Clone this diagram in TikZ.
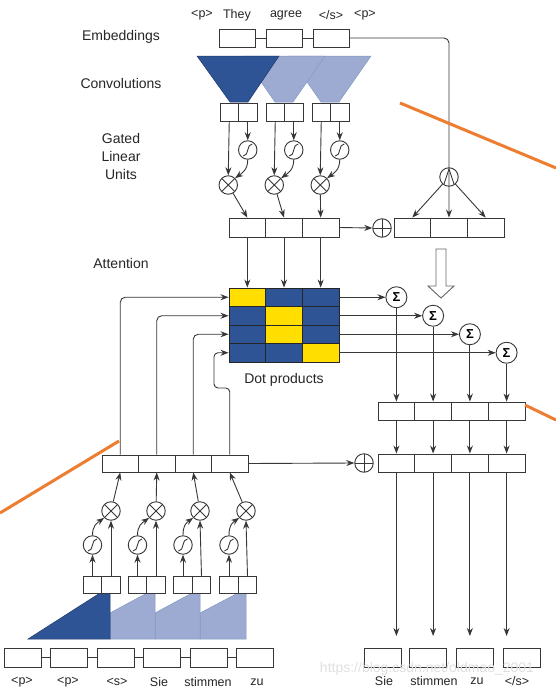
\documentclass[tikz,border=0pt]{standalone}
\usepackage{fontspec}
\setmainfont{Liberation Sans}
\usetikzlibrary{arrows.meta}
\definecolor{dblue}{RGB}{46,84,150}
\definecolor{lblue}{RGB}{157,171,210}
\definecolor{myyellow}{RGB}{255,222,0}
\definecolor{orng}{RGB}{237,125,49}
\definecolor{linec}{RGB}{55,55,55}
\tikzset{
  box/.style={draw=linec, line width=0.9pt, minimum width=36.7pt, minimum height=19pt, inner sep=0pt, fill=white},
  sbox/.style={box, minimum width=18.4pt, minimum height=18pt},
  cell/.style={draw=black!85, line width=0.9pt, minimum width=36.67pt, minimum height=18.5pt, inner sep=0pt},
  conn/.style={draw=linec, line width=0.9pt},
  arr/.style={conn, -{Stealth[length=8pt,width=6pt]}},
  circ/.style={circle, draw=linec, line width=0.9pt, minimum size=18.5pt, inner sep=0pt, fill=white},
  timesnode/.style={circ, path picture={\draw[linec, line width=0.9pt]
     (path picture bounding box.north west) -- (path picture bounding box.south east)
     (path picture bounding box.south west) -- (path picture bounding box.north east);}},
  plusnode/.style={circ, path picture={\draw[linec, line width=0.9pt]
     (path picture bounding box.north) -- (path picture bounding box.south)
     (path picture bounding box.west) -- (path picture bounding box.east);}},
  sigmnode/.style={circ, path picture={\draw[linec, line width=0.9pt]
     ([shift={(-4.5,6)}]path picture bounding box.center) .. controls ([shift={(1.5,6)}]path picture bounding box.center) and ([shift={(-1.5,-6)}]path picture bounding box.center) .. ([shift={(4.5,-6)}]path picture bounding box.center);}},
  lamnode/.style={circ, path picture={\draw[linec, line width=0.9pt]
     ([shift={(-5,7)}]path picture bounding box.center) -- ([shift={(0,-8)}]path picture bounding box.center) -- ([shift={(5,7)}]path picture bounding box.center);}},
  sumnode/.style={circ, minimum size=21pt, font=\fontsize{13}{13}\selectfont\bfseries},
  tok/.style={font=\fontsize{12.5}{14}\selectfont, inner sep=0pt, text=black!85},
  lab/.style={font=\fontsize{14}{18}\selectfont, align=center, inner sep=0pt, text=black!85},
  orangeline/.style={draw=orng, line width=3pt},
  convdark/.style={fill=dblue, draw=dblue!70!black, line width=0.5pt},
  convlight/.style={fill=lblue, draw=dblue!60, line width=0.5pt},
}
\begin{document}
\begin{tikzpicture}[x=1pt,y=-1pt]
\useasboundingbox (0,0) rectangle (556,688);
\fill[white] (0,0) rectangle (556,688);

% ---------------- labels left
\node[lab] (lEmb) at (121,37) {Embeddings};
\node[lab] (lConv) at (121,83) {Convolutions};
\node[lab] (lGLU) at (121,156) {Gated\\Linear\\Units};
\node[lab] (lAtt) at (121,263) {Attention};
\node[lab] (lDot) at (284,380) {Dot products};

% ---------------- decoder top tokens
\node[tok] (tp1) at (202,15) {<p>};
\node[tok] (tThey) at (237,15) {They};
\node[tok] (tagree) at (286,15) {agree};
\node[tok] (tend) at (331,15) {</s>};
\node[tok] (tp2) at (365,15) {<p>};

% ---------------- decoder convolutions
\draw[convlight] (289,56) -- (371,56) -- (339,102) -- (321,102) -- cycle;
\draw[convlight] (243,56) -- (325,56) -- (293,102) -- (275,102) -- cycle;
\draw[convdark] (197,56) -- (279,56) -- (248,102) -- (230,102) -- cycle;

% ---------------- encoder convolutions
\draw[convlight] (200,639) -- (200,613) -- (238,593) -- (246,593) -- (246,639) -- cycle;
\draw[convlight] (155,639) -- (155,613) -- (192,593) -- (200,593) -- (200,639) -- cycle;
\draw[convlight] (110,639) -- (110,613) -- (147,593) -- (155,593) -- (155,639) -- cycle;
\draw[convdark] (28,639) -- (100,593) -- (110,593) -- (110,639) -- cycle;

% ---------------- decoder embeddings
\node[box, minimum width=36pt, minimum height=18pt] (e1) at (237,38) {};
\node[box, minimum width=36pt, minimum height=18pt] (e2) at (284.5,38) {};
\node[box, minimum width=36pt, minimum height=18pt] (e3) at (331,38) {};

% ---------------- decoder conv outputs (pairs)
\foreach \i/\x in {1/229.25,2/275.25,3/321.25}{
  \node[sbox] (dpa\i) at (\x,112) {};
  \node[sbox] (dpb\i) at (\x+18.5,112) {};
  \node[sigmnode] (ds\i) at (\x+18.5,150) {};
  \node[timesnode] (dot\i) at (\x-1,185) {};
}

% ---------------- decoder GLU outputs
\node[box, minimum height=19pt] (c1) at (247.33,227.5) {};
\node[box, minimum height=19pt] (c2) at (284,227.5) {};
\node[box, minimum height=19pt] (c3) at (320.67,227.5) {};
\node[plusnode] (op1) at (382,228) {};
\node[box, minimum height=19pt] (r1) at (412.33,227.5) {};
\node[box, minimum height=19pt] (r2) at (449,227.5) {};
\node[box, minimum height=19pt] (r3) at (485.67,227.5) {};
\node[lamnode] (lam) at (449,177) {};

% ---------------- hollow arrow
\draw[draw=black!60, line width=0.9pt, fill=white] (436,249) -- (446,249) -- (446,286) -- (454,286) -- (441,298) -- (428,286) -- (436,286) -- cycle;

% ---------------- attention matrix
\foreach \r/\y in {1/297.25,2/315.75,3/334.25,4/352.75}{
  \foreach \c/\x in {1/247.33,2/284,3/320.67}{
    \node[cell, fill=dblue] (m\r\c) at (\x,\y) {};
  }
}
\node[cell, fill=myyellow] at (m11) {};
\node[cell, fill=myyellow] at (m22) {};
\node[cell, fill=myyellow] at (m32) {};
\node[cell, fill=myyellow] at (m43) {};

% ---------------- sums
\node[sumnode] (sg1) at (396.4,297.25) {Σ};
\node[sumnode] (sg2) at (433.1,315.75) {Σ};
\node[sumnode] (sg3) at (469.9,334.25) {Σ};
\node[sumnode] (sg4) at (506.6,352.75) {Σ};

% ---------------- decoder rows
\foreach \i/\x in {1/396.4,2/433.1,3/469.9,4/506.6}{
  \node[box, minimum width=36.75pt, minimum height=18pt] (a\i) at (\x,411) {};
  \node[box, minimum width=36.75pt, minimum height=18pt] (b\i) at (\x,463) {};
  \coordinate (oe\i) at (\x,636);
}
\node[plusnode] (op2) at (364,463) {};

% ---------------- output boxes
\node[box, minimum width=37pt, minimum height=19pt] (t1) at (382.5,657.5) {};
\node[box, minimum width=37pt, minimum height=19pt] (t2) at (428,657.5) {};
\node[box, minimum width=37pt, minimum height=19pt] (t3) at (474.5,657.5) {};
\node[box, minimum width=37pt, minimum height=19pt] (t4) at (521.5,657.5) {};
\node[font=\fontsize{14}{16}\selectfont, text=black!12, inner sep=0pt] (wm) at (427,669) {https://blog.csdn.net/oldmao\_2001};
\node[tok] (oSie) at (384,681) {Sie};
\node[tok] (ostim) at (434,681) {stimmen};
\node[tok] (ozu) at (477,681) {zu};
\node[tok] (oend) at (517,681) {</s>};

% ---------------- encoder rows
\node[box, minimum width=36.5pt, minimum height=17pt] (h1) at (120.25,463.5) {};
\node[box, minimum width=36.5pt, minimum height=17pt] (h2) at (156.75,463.5) {};
\node[box, minimum width=36.5pt, minimum height=17pt] (h3) at (193.25,463.5) {};
\node[box, minimum width=36.5pt, minimum height=17pt] (h4) at (229.75,463.5) {};

\foreach \i/\xl/\xr/\xo in {1/92.5/111/111,2/137.5/156/156,3/183/201.5/200,4/229/247.5/246}{
  \node[sbox, minimum height=17pt] (pl\i) at (\xl,585) {};
  \node[sbox, minimum height=17pt] (pr\i) at (\xr,585) {};
  \node[sigmnode] (es\i) at (\xl,545) {};
  \node[timesnode] (eo\i) at (\xo,511) {};
}

% ---------------- encoder embeddings
\foreach \i/\x in {1/22.5,2/69,3/115.5,4/161.5,5/208.5,6/255}{
  \node[box, minimum width=37pt, minimum height=19pt] (ee\i) at (\x,657.5) {};
}
\node[tok] (ip1) at (22,682) {<p>};
\node[tok] (ip2) at (68,682) {<p>};
\node[tok] (is) at (117,682) {<s>};
\node[tok] (iSie) at (159,682) {Sie};
\node[tok] (istim) at (208,682) {stimmen};
\node[tok] (izu) at (257,682) {zu};

% ================= connectors
% decoder embeddings
\draw[conn] (e1.east) -- (e2.west);
\draw[conn] (e2.east) -- (e3.west);
\draw[arr, rounded corners=5pt] (e3.east) -| (r2.north);
\draw[arr] (lam) -- (r1.north);
\draw[arr] (lam) -- (r3.north);

% decoder GLU
\foreach \i in {1,2,3}{
  \draw[arr] (dpa\i.south) -- (dot\i.north);
  \draw[arr] (dpb\i.south) -- (ds\i.north);
  \draw[arr] (ds\i.south) .. controls +(0,10) and +(7,-5) .. (dot\i.north east);
  \draw[arr] (dot\i) -- (c\i.north);
  \draw[arr] (c\i.south) -- (m1\i.north);
}
\draw[arr] (c3.east) -- (op1.west);

% matrix to sums
\foreach \i in {1,2,3,4}{
  \draw[arr] (m\i3.east) -- (sg\i.west);
  \draw[arr] (sg\i.south) -- (a\i.north);
  \draw[arr] (a\i.south) -- (b\i.north);
  \draw[arr] (b\i.south) -- (oe\i);
}

% encoder embeddings connectors
\foreach \i/\j in {1/2,2/3,3/4,4/5,5/6}{
  \draw[conn] (ee\i.east) -- (ee\j.west);
}

% encoder GLU
\foreach \i in {1,2,3,4}{
  \draw[arr] (pl\i.north) -- (es\i.south);
  \draw[arr] (pr\i.north) -- (eo\i.south);
  \draw[arr] (es\i.north) .. controls +(0,-10) and +(-7,5) .. (eo\i.south west);
  \draw[arr] (eo\i) -- (h\i.south);
}

% encoder to attention
\draw[arr, rounded corners=5pt] (h1.north) |- (m11.west);
\draw[arr, rounded corners=5pt] (h2.north) |- (m21.west);
\draw[arr, rounded corners=5pt] (h3.north) |- (m31.west);
\coordinate (k4) at (214,388);
\draw[arr, rounded corners=4pt] (h4.north) |- (k4) |- (m41.west);
\draw[arr] (h4.east) -- (op2.west);

% ---------------- orange strokes
\draw[orangeline] (400,103) -- (556,168);
\draw[orangeline] (0,513) -- (119,441);
\draw[orangeline] (525,405) -- (556,420);
\end{tikzpicture}
\end{document}
